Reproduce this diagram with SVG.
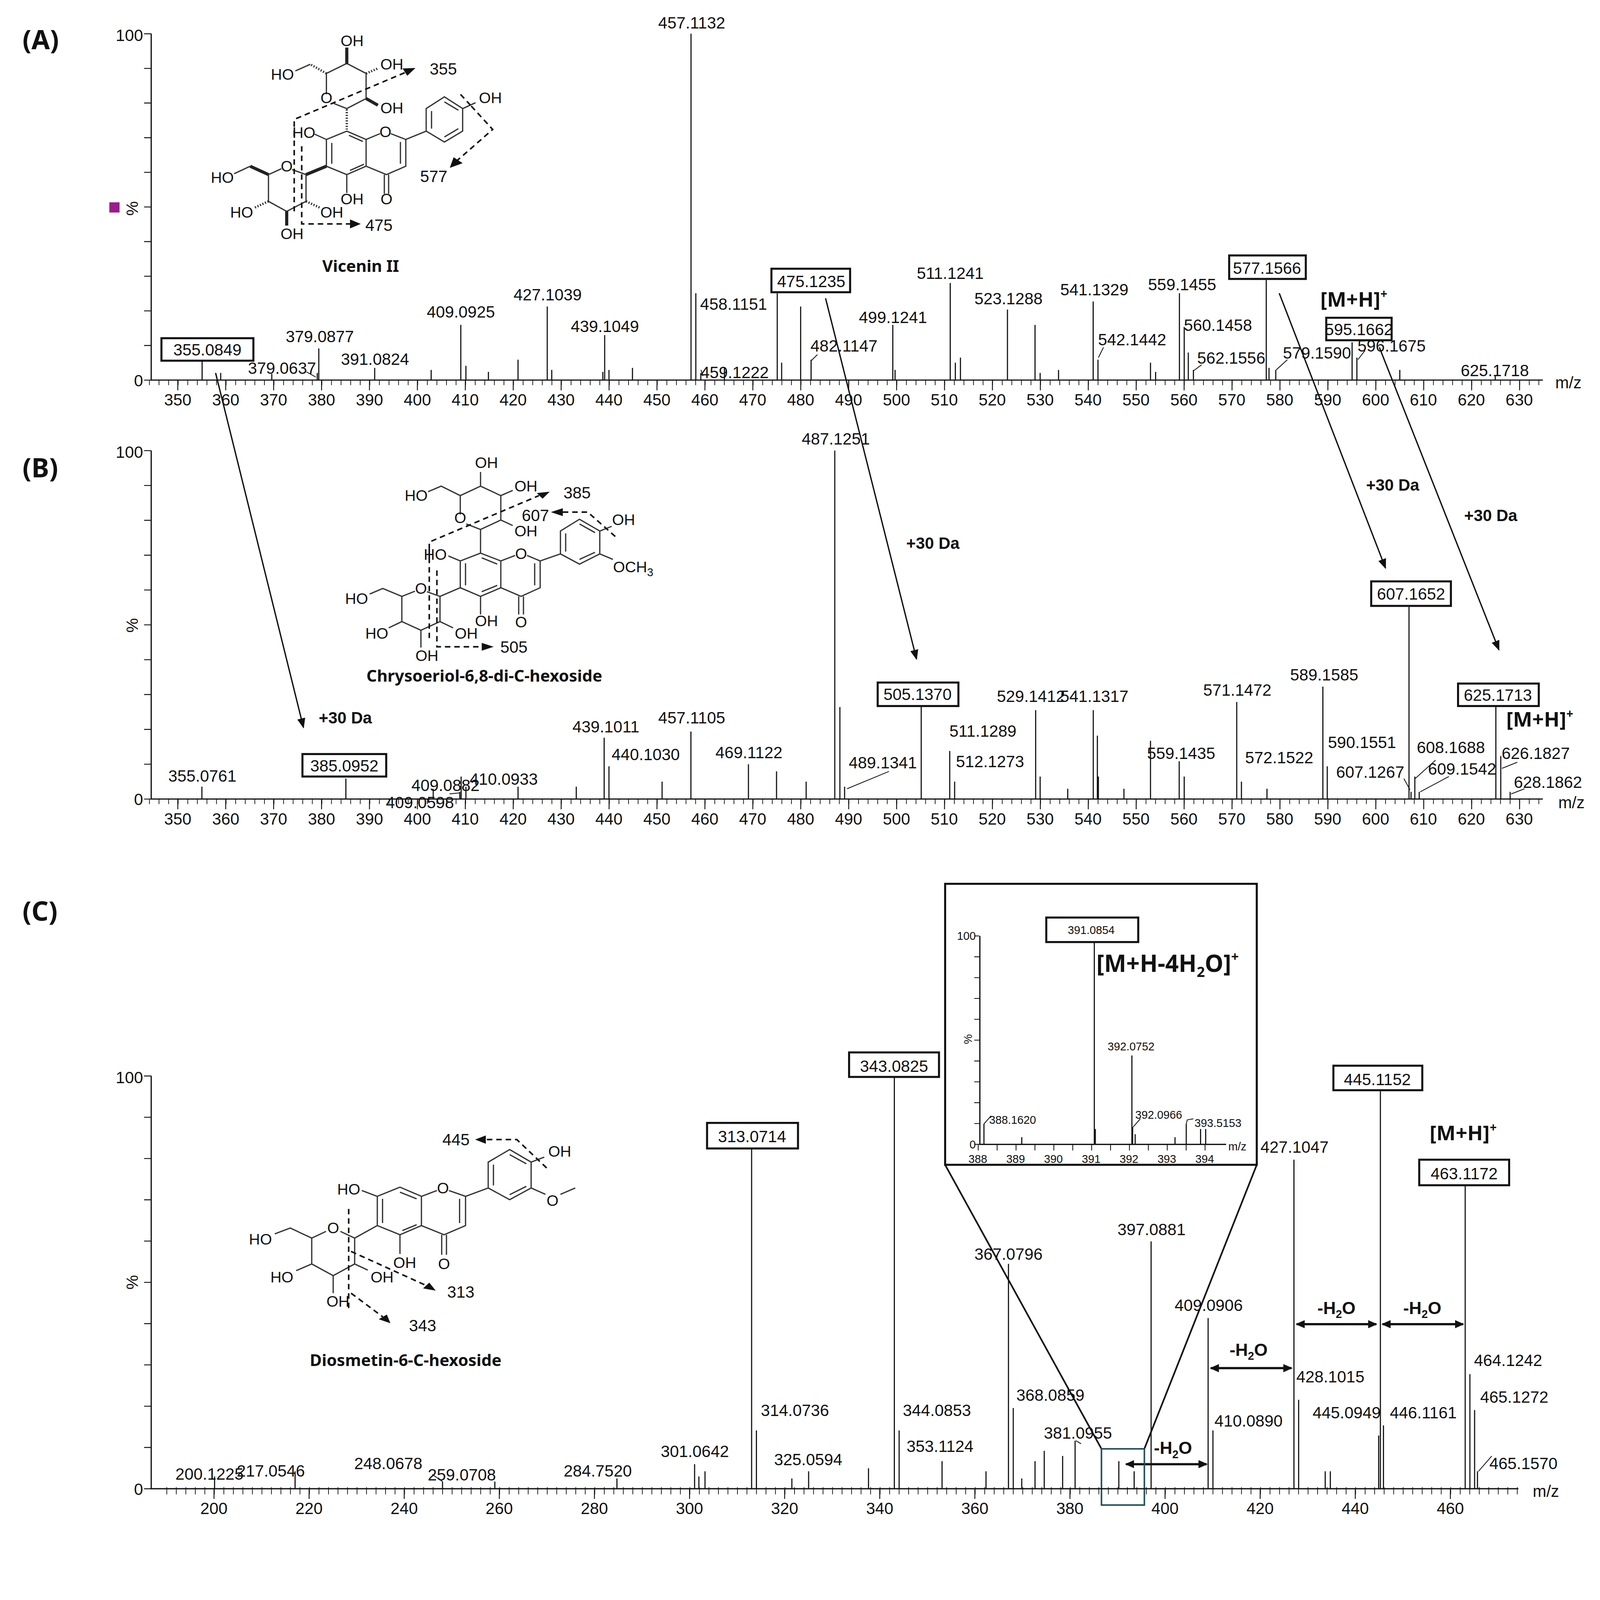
<svg xmlns="http://www.w3.org/2000/svg" width="4284" height="4100" viewBox="0 0 4284 4100">
<style>
text{font-family:"Liberation Sans",Arial,sans-serif;fill:#111}
.pk{font-size:16px;text-anchor:middle}
.tk{font-size:16px;text-anchor:middle}
.in{font-size:11px;text-anchor:middle}
.st{font-family:"Noto Sans","DejaVu Sans",sans-serif;font-size:15px;text-anchor:middle}
.nm{font-family:"Noto Sans","DejaVu Sans",sans-serif;font-size:16px;font-weight:bold;text-anchor:middle}
.bd{font-family:"Noto Sans","DejaVu Sans",sans-serif;font-weight:bold}
.peaks{fill:none;stroke:#111;stroke-width:1.1}
.ax{fill:none;stroke:#111;stroke-width:1.2}
.box{fill:#fff;stroke:#111;stroke-width:2}
.bond{fill:none;stroke:#333;stroke-width:3.2;vector-effect:non-scaling-stroke}
.wedge{fill:none;stroke:#222;stroke-width:8;vector-effect:non-scaling-stroke}
.hash{fill:none;stroke:#333;stroke-width:6;stroke-dasharray:3 4;vector-effect:non-scaling-stroke}
.frag{fill:none;stroke:#111;stroke-width:4;stroke-dasharray:14 10;vector-effect:non-scaling-stroke}
.ah{fill:#111}
.lead{fill:none;stroke:#111;stroke-width:0.8}
.arr{fill:none;stroke:#111;stroke-width:1.3;marker-end:url(#ar)}
.dh{fill:none;stroke:#111;stroke-width:2.2;marker-start:url(#ar2s);marker-end:url(#ar2)}
</style>
<defs>
<marker id="ar" markerWidth="10" markerHeight="8" refX="9" refY="4" orient="auto" markerUnits="userSpaceOnUse"><path d="M0,0 L10,4 L0,8 Z" fill="#111"/></marker>
<marker id="ar2" markerWidth="9" markerHeight="8" refX="8" refY="4" orient="auto" markerUnits="userSpaceOnUse"><path d="M0,0 L9,4 L0,8 Z" fill="#111"/></marker>
<marker id="ar2s" markerWidth="9" markerHeight="8" refX="1" refY="4" orient="auto" markerUnits="userSpaceOnUse"><path d="M9,0 L0,4 L9,8 Z" fill="#111"/></marker>
</defs>
<rect width="4284" height="4100" fill="#fff"/>
<g transform="scale(2.6157)">

<text x="22" y="48" class="bd" font-size="26">(A)</text>
<text x="22" y="467" class="bd" font-size="26">(B)</text>
<text x="22" y="901" class="bd" font-size="26">(C)</text>

<g id="axisA">
<path class="ax" d="M148,33 V372 H1510"/>
<line x1="144.5" y1="32.6" x2="144.5" y2="373" stroke="#111" stroke-width="7" stroke-dasharray="0.9 33"/>
<line x1="145.9" y1="374.5" x2="1510" y2="374.5" stroke="#111" stroke-width="5" stroke-dasharray="0.7 8.678"/>
<line x1="173.55" y1="377" x2="1500" y2="377" stroke="#111" stroke-width="10" stroke-dasharray="0.9 46"/>
<text x="140" y="40" font-size="16" text-anchor="end">100</text>
<text x="140" y="378" font-size="16" text-anchor="end">0</text>
<text x="0" y="0" font-size="16" text-anchor="middle" transform="translate(135,204) rotate(-90)">%</text>
<rect x="107" y="198" width="10" height="10" fill="#9b1c8c"/>
<text x="1535" y="380" font-size="16" text-anchor="middle">m/z</text>
<g class="tk">
<text x="174" y="397">350</text><text x="220.9" y="397">360</text><text x="267.8" y="397">370</text><text x="314.7" y="397">380</text><text x="361.6" y="397">390</text><text x="408.5" y="397">400</text><text x="455.3" y="397">410</text><text x="502.2" y="397">420</text><text x="549.1" y="397">430</text><text x="596" y="397">440</text><text x="642.9" y="397">450</text><text x="689.8" y="397">460</text><text x="736.7" y="397">470</text><text x="783.6" y="397">480</text><text x="830.5" y="397">490</text><text x="877.4" y="397">500</text><text x="924.2" y="397">510</text><text x="971.1" y="397">520</text><text x="1018" y="397">530</text><text x="1064.9" y="397">540</text><text x="1111.8" y="397">550</text><text x="1158.7" y="397">560</text><text x="1205.6" y="397">570</text><text x="1252.5" y="397">580</text><text x="1299.4" y="397">590</text><text x="1346.3" y="397">600</text><text x="1393.1" y="397">610</text><text x="1440" y="397">620</text><text x="1486.9" y="397">630</text>
</g>
</g>
<g id="peaksA">
<path class="peaks" d="M197.8 372V352 M310.5 372V365 M312 372V341 M366.7 372V360 M451 372V318 M535.6 372V300 M591.8 372V328 M676.3 372V33 M681 372V287 M685.9 372V365 M760.7 372V287 M793.8 372V352 M873.8 372V318 M930 372V277 M986 372V303 M1069.9 372V295 M1074.6 372V352 M1154.3 372V287 M1159 372V320 M1168 372V362 M1239.3 372V274 M1248.6 372V362 M1323.3 372V335 M1328 372V350 M1463.4 372V368 M507 372V352 M783.6 372V300 M765 372V355 M1013 372V318 M1126 372V355 M940 372V350 M1163 372V345 M422 372V362 M619 372V360 M709 372V360 M1036 372V362 M1370 372V362 M456 372V358 M540 372V362 M596 372V362 M935 372V355 M478 372V364 M876 372V362 M1018 372V365 M1131 372V364 M216 372V365 M266 372V366 M590 372V364 M1242 372V360"/>
<path class="lead" d="M300,364 L309,369 M688,368 L686,362 M800,347 L794,353 M1080,340 L1075,350 M1176,357 L1168,363 M1260,352 L1249,362 M1336,343 L1329,352"/>
<rect class="box" x="158" y="331" width="90" height="22"/>
<rect class="box" x="755" y="263" width="77" height="23"/>
<rect class="box" x="1203" y="250" width="75" height="23"/>
<rect class="box" x="1298" y="311" width="64" height="22"/>
<g class="pk">
<text x="203" y="348">355.0849</text>
<text x="276" y="366">379.0637</text>
<text x="313" y="335">379.0877</text>
<text x="367" y="357">391.0824</text>
<text x="451" y="311">409.0925</text>
<text x="536" y="294">427.1039</text>
<text x="592" y="325">439.1049</text>
<text x="677" y="28">457.1132</text>
<text x="718" y="303">458.1151</text>
<text x="719" y="370">459.1222</text>
<text x="794" y="281">475.1235</text>
<text x="826" y="344">482.1147</text>
<text x="874" y="316">499.1241</text>
<text x="930" y="273">511.1241</text>
<text x="987" y="298">523.1288</text>
<text x="1071" y="289">541.1329</text>
<text x="1108" y="338">542.1442</text>
<text x="1157" y="284">559.1455</text>
<text x="1192" y="324">560.1458</text>
<text x="1205" y="356">562.1556</text>
<text x="1240" y="268">577.1566</text>
<text x="1289" y="351">579.1590</text>
<text x="1330" y="328">595.1662</text>
<text x="1362" y="344">596.1675</text>
<text x="1463" y="368">625.1718</text>
</g>
<text x="1325" y="300" class="bd" font-size="20" text-anchor="middle">[M+H]<tspan font-size="12" dy="-8">+</tspan></text>
</g>

<g id="axisB">
<path class="ax" d="M148,441 V782 H1510"/>
<line x1="144.5" y1="440.6" x2="144.5" y2="783" stroke="#111" stroke-width="7" stroke-dasharray="0.9 33.2"/>
<line x1="145.9" y1="784.5" x2="1510" y2="784.5" stroke="#111" stroke-width="5" stroke-dasharray="0.7 8.678"/>
<line x1="173.55" y1="787" x2="1500" y2="787" stroke="#111" stroke-width="10" stroke-dasharray="0.9 46"/>
<text x="140" y="448" font-size="16" text-anchor="end">100</text>
<text x="140" y="788" font-size="16" text-anchor="end">0</text>
<text x="0" y="0" font-size="16" text-anchor="middle" transform="translate(135,612) rotate(-90)">%</text>
<text x="1538" y="791" font-size="16" text-anchor="middle">m/z</text>
<g class="tk">
<text x="174" y="807">350</text><text x="220.9" y="807">360</text><text x="267.8" y="807">370</text><text x="314.7" y="807">380</text><text x="361.6" y="807">390</text><text x="408.5" y="807">400</text><text x="455.3" y="807">410</text><text x="502.2" y="807">420</text><text x="549.1" y="807">430</text><text x="596" y="807">440</text><text x="642.9" y="807">450</text><text x="689.8" y="807">460</text><text x="736.7" y="807">470</text><text x="783.6" y="807">480</text><text x="830.5" y="807">490</text><text x="877.4" y="807">500</text><text x="924.2" y="807">510</text><text x="971.1" y="807">520</text><text x="1018" y="807">530</text><text x="1064.9" y="807">540</text><text x="1111.8" y="807">550</text><text x="1158.7" y="807">560</text><text x="1205.6" y="807">570</text><text x="1252.5" y="807">580</text><text x="1299.4" y="807">590</text><text x="1346.3" y="807">600</text><text x="1393.1" y="807">610</text><text x="1440" y="807">620</text><text x="1486.9" y="807">630</text>
</g>
</g>
<g id="peaksB">
<path class="peaks" d="M197.6 782V770 M338.5 782V762 M450 782V775 M451.3 782V760 M456 782V770 M591.3 782V722 M596 782V750 M676.2 782V716 M732.5 782V748 M817 782V441 M822 782V692 M826.6 782V770 M901.6 782V690 M929.5 782V735 M934.3 782V765 M1013.6 782V695 M1070 782V695 M1126 782V725 M1154.1 782V745 M1210.4 782V687 M1215 782V765 M1294.7 782V672 M1299 782V750 M1379 782V594 M1381 782V775 M1384.7 782V760 M1389 782V775 M1464 782V690 M1468.8 782V740 M1478 782V775 M648 782V765 M760 782V755 M789 782V765 M1018 782V760 M1075 782V760 M1159 782V760 M564 782V770 M507 782V770 M1045 782V772 M1240 782V772 M1100 782V772 M424 782V772 M1074 782V720"/>
<path class="lead" d="M440,777 L450,776 M1374,762 L1380,773 M1405,744 L1385,762 M1418,760 L1390,775 M1485,746 L1470,752 M1492,772 L1479,777 M870,755 L829,772"/>
<rect class="box" x="296" y="738" width="82" height="22"/>
<rect class="box" x="859" y="668" width="79" height="23"/>
<rect class="box" x="1342" y="569" width="78" height="24"/>
<rect class="box" x="1427" y="669" width="79" height="22"/>
<g class="pk">
<text x="198" y="765">355.0761</text>
<text x="337" y="755">385.0952</text>
<text x="411" y="791">409.0598</text>
<text x="436" y="774">409.0882</text>
<text x="493" y="768">410.0933</text>
<text x="593" y="717">439.1011</text>
<text x="632" y="744">440.1030</text>
<text x="677" y="708">457.1105</text>
<text x="733" y="742">469.1122</text>
<text x="818" y="435">487.1251</text>
<text x="864" y="752">489.1341</text>
<text x="898" y="685">505.1370</text>
<text x="962" y="721">511.1289</text>
<text x="969" y="751">512.1273</text>
<text x="1009" y="687">529.1412</text>
<text x="1071" y="687">541.1317</text>
<text x="1156" y="743">559.1435</text>
<text x="1211" y="681">571.1472</text>
<text x="1252" y="747">572.1522</text>
<text x="1296" y="666">589.1585</text>
<text x="1333" y="732">590.1551</text>
<text x="1341" y="761">607.1267</text>
<text x="1381" y="587">607.1652</text>
<text x="1420" y="737">608.1688</text>
<text x="1431" y="758">609.1542</text>
<text x="1466" y="686">625.1713</text>
<text x="1503" y="743">626.1827</text>
<text x="1515" y="771">628.1862</text>
</g>
<text x="1507" y="711" class="bd" font-size="20" text-anchor="middle">[M+H]<tspan font-size="12" dy="-8">+</tspan></text>
</g>

<g id="connectors">
<line class="arr" x1="211" y1="365" x2="297" y2="712"/>
<line class="arr" x1="808" y1="292" x2="897" y2="645"/>
<line class="arr" x1="1252" y1="287" x2="1356" y2="556"/>
<line class="arr" x1="1350" y1="340" x2="1467" y2="636"/>
<g class="bd" font-size="16" text-anchor="middle">
<text x="338" y="708">+30 Da</text>
<text x="913" y="537">+30 Da</text>
<text x="1363" y="480">+30 Da</text>
<text x="1459" y="510">+30 Da</text>
</g>
<g class="bd" font-size="17" text-anchor="middle">
<line class="dh" x1="1102" y1="1433" x2="1181" y2="1433"/>
<text x="1148" y="1423">-H<tspan font-size="11" dy="4">2</tspan><tspan dy="-4">O</tspan></text>
<line class="dh" x1="1185" y1="1339" x2="1264" y2="1339"/>
<text x="1222" y="1327">-H<tspan font-size="11" dy="4">2</tspan><tspan dy="-4">O</tspan></text>
<line class="dh" x1="1269" y1="1296" x2="1347" y2="1296"/>
<text x="1308" y="1286">-H<tspan font-size="11" dy="4">2</tspan><tspan dy="-4">O</tspan></text>
<line class="dh" x1="1353" y1="1296" x2="1432" y2="1296"/>
<text x="1392" y="1286">-H<tspan font-size="11" dy="4">2</tspan><tspan dy="-4">O</tspan></text>
</g>
<line x1="925" y1="1140" x2="1078" y2="1418" stroke="#111" stroke-width="1.6"/>
<line x1="1230" y1="1140" x2="1120" y2="1418" stroke="#111" stroke-width="1.6"/>
<rect x="1078" y="1418" width="42" height="55" fill="none" stroke="#1f4e5f" stroke-width="1.5"/>
</g>

<g id="axisC">
<path class="ax" d="M148,1053 V1457 H1486"/>
<line x1="144.5" y1="1052.6" x2="144.5" y2="1458" stroke="#111" stroke-width="7" stroke-dasharray="0.9 39.5"/>
<line x1="162.9" y1="1459" x2="1486" y2="1459" stroke="#111" stroke-width="7" stroke-dasharray="0.7 8.608"/>
<line x1="209" y1="1462" x2="1430" y2="1462" stroke="#111" stroke-width="10" stroke-dasharray="0.9 92.18"/>
<text x="140" y="1060" font-size="16" text-anchor="end">100</text>
<text x="140" y="1463" font-size="16" text-anchor="end">0</text>
<text x="0" y="0" font-size="16" text-anchor="middle" transform="translate(135,1255) rotate(-90)">%</text>
<text x="1513" y="1465" font-size="16" text-anchor="middle">m/z</text>
<g class="tk">
<text x="209.4" y="1482">200</text><text x="302.5" y="1482">220</text><text x="395.6" y="1482">240</text><text x="488.6" y="1482">260</text><text x="581.7" y="1482">280</text><text x="674.8" y="1482">300</text><text x="767.9" y="1482">320</text><text x="861" y="1482">340</text><text x="954.1" y="1482">360</text><text x="1047.1" y="1482">380</text><text x="1140.2" y="1482">400</text><text x="1233.3" y="1482">420</text><text x="1326.4" y="1482">440</text><text x="1419.5" y="1482">460</text>
</g>
</g>
<g id="peaksC">
<path class="peaks" d="M210 1457V1445 M288.8 1457V1440 M433.1 1457V1450 M484.3 1457V1450 M603.8 1457V1447 M679.8 1457V1433 M735.6 1457V1124 M740.3 1457V1400 M791.4 1457V1440 M875.3 1457V1054 M880 1457V1400 M922 1457V1430 M987 1457V1237 M991.7 1457V1378 M1052.2 1457V1410 M1126.6 1457V1215 M1182.4 1457V1290 M1187.1 1457V1400 M1266.4 1457V1135 M1271 1457V1370 M1349.3 1457V1405 M1351 1457V1068 M1354 1457V1395 M1434 1457V1160 M1438.6 1457V1345 M1443.2 1457V1380 M1446 1457V1440 M690 1457V1440 M850 1457V1437 M1022 1457V1420 M1040 1457V1425 M1095 1457V1430 M1110 1457V1440 M1297 1457V1440 M1302 1457V1440 M775 1457V1447 M965 1457V1440 M1000 1457V1447 M684 1457V1445 M1013 1457V1430"/>
<path class="lead" d="M423,1443 L433,1450 M1460,1425 L1447,1440 M1058,1413 L1053,1410"/>
<rect class="box" x="692" y="1099" width="89" height="25"/>
<rect class="box" x="831" y="1030" width="88" height="24"/>
<rect class="box" x="1305" y="1043" width="87" height="24"/>
<rect class="box" x="1389" y="1135" width="88" height="25"/>
<g class="pk">
<text x="205" y="1448">200.1225</text>
<text x="265" y="1445">217.0546</text>
<text x="380" y="1438">248.0678</text>
<text x="452" y="1449">259.0708</text>
<text x="585" y="1445">284.7520</text>
<text x="680" y="1426">301.0642</text>
<text x="736" y="1118">313.0714</text>
<text x="778" y="1386">314.0736</text>
<text x="791" y="1434">325.0594</text>
<text x="875" y="1049">343.0825</text>
<text x="917" y="1386">344.0853</text>
<text x="920" y="1421">353.1124</text>
<text x="987" y="1233">367.0796</text>
<text x="1028" y="1371">368.0859</text>
<text x="1055" y="1408">381.0955</text>
<text x="1127" y="1209">397.0881</text>
<text x="1183" y="1283">409.0906</text>
<text x="1222" y="1396">410.0890</text>
<text x="1267" y="1128">427.1047</text>
<text x="1302" y="1353">428.1015</text>
<text x="1318" y="1388">445.0949</text>
<text x="1348" y="1062">445.1152</text>
<text x="1393" y="1388">446.1161</text>
<text x="1433" y="1154">463.1172</text>
<text x="1476" y="1337">464.1242</text>
<text x="1482" y="1373">465.1272</text>
<text x="1491" y="1438">465.1570</text>
</g>
<text x="1432" y="1116" class="bd" font-size="20" text-anchor="middle">[M+H]<tspan font-size="12" dy="-8">+</tspan></text>
</g>

<g id="inset">
<rect x="925" y="865" width="305" height="275" fill="#fff" stroke="#111" stroke-width="2"/>
<path class="ax" d="M959,916 V1120 H1200"/>
<line x1="956" y1="915.6" x2="956" y2="1121" stroke="#111" stroke-width="5" stroke-dasharray="0.8 19.6"/>
<line x1="957" y1="1123" x2="1196" y2="1123" stroke="#111" stroke-width="6" stroke-dasharray="0.8 17.7"/>
<text x="955" y="920" font-size="11" text-anchor="end">100</text>
<text x="955" y="1124" font-size="11" text-anchor="end">0</text>
<text x="0" y="0" font-size="11" text-anchor="middle" transform="translate(951,1017) rotate(-90)">%</text>
<text x="1211" y="1126" font-size="11" text-anchor="middle">m/z</text>
<g class="in">
<text x="957" y="1138">388</text><text x="994" y="1138">389</text><text x="1031" y="1138">390</text><text x="1068" y="1138">391</text><text x="1105" y="1138">392</text><text x="1142" y="1138">393</text><text x="1179" y="1138">394</text>
</g>
<path class="peaks" d="M963 1120V1100 M1071 1120V922 M1107.8 1120V1033 M1108.5 1120V1103 M1161 1120V1100 M1000 1120V1113 M1150 1120V1113 M1175 1120V1105 M1180 1120V1105 M1111 1120V1110 M1072 1120V1105"/>
<path class="lead" d="M963,1100 L970,1092 M1109,1103 L1116,1095 M1161,1100 L1162,1096 L1168,1095"/>
<rect class="box" x="1024" y="898" width="90" height="24"/>
<text x="1068" y="914" class="in">391.0854</text>
<text x="1107" y="1028" class="in">392.0752</text>
<text x="1134" y="1095" class="in">392.0966</text>
<text x="1192" y="1103" class="in">393.5153</text>
<text x="991" y="1100" class="in">388.1620</text>
<text x="1073" y="951" class="bd" font-size="23">[M+H-4H<tspan font-size="14" dy="5">2</tspan><tspan dy="-5">O]</tspan><tspan font-size="13" dy="-10">+</tspan></text>
</g>

<g id="vicenin">
<g transform="translate(190.3,22) scale(0.210,0.1636)">
<path class="bond" d="M615,430 L615,305 L710,245 L800,305 L800,455 L710,515 L650,485 M540,250 L470,290 M710,650 L800,700 L800,860 L710,910 L615,860 L615,700 Z M800,700 L865,665 M915,665 L985,700 L985,860 L895,910 L800,860 M640,720 L640,845 M725,885 L790,848 M720,675 L785,712 M960,715 L960,845 M885,910 L885,1025 M905,910 L905,1025 M615,700 L560,668 M710,910 L710,1020 M985,700 L1080,650 M1080,650 L1080,515 L1165,445 L1250,515 L1250,650 L1165,715 Z M1105,530 L1105,635 M1165,475 L1230,525 M1165,685 L1230,635 M1250,515 L1310,480 M455,880 L520,910 L520,1070 L430,1130 L345,1070 L345,910 L405,875 M260,860 L185,905"/>
<path class="hash" d="M710,520 L710,640 M615,305 L540,250 M800,305 L855,275 M345,1070 L280,1108 M520,1070 L585,1108"/>
<path class="wedge" d="M710,245 L710,150 M800,455 L855,495 M520,910 L615,860 M345,910 L260,860 M430,1130 L430,1215"/>
<path class="frag" d="M465,680 L465,580 L990,295 M465,650 L465,1130 M500,740 L500,1205 L730,1205 M1240,430 L1290,500 M1290,500 L1390,640 L1225,825"/>
<polygon class="ah" points="1030,272 992,319 970,275"/>
<polygon class="ah" points="775,1205 725,1178 725,1232"/>
<polygon class="ah" points="1190,870 1250,842 1208,806"/>
</g>
<g class="st">
<text x="344.6" y="45">OH</text>
<text x="383.5" y="68">OH</text>
<text x="276.4" y="78">HO</text>
<text x="319.5" y="101">O</text>
<text x="383.5" y="111">OH</text>
<text x="480" y="101">OH</text>
<text x="297.4" y="135">HO</text>
<text x="377.2" y="134">O</text>
<text x="280.6" y="168">O</text>
<text x="217.6" y="179">HO</text>
<text x="344.6" y="200">OH</text>
<text x="378.3" y="200">O</text>
<text x="236.5" y="213">HO</text>
<text x="324.7" y="213">OH</text>
<text x="285.8" y="234">OH</text>
<text x="433.9" y="73" font-size="16">355</text>
<text x="424.5" y="178" font-size="16">577</text>
<text x="370.9" y="226" font-size="16">475</text>
</g>
<text x="353" y="266" class="nm">Vicenin II</text>
</g>

<g id="chrysoeriol">
<g transform="translate(322.1,431.9) scale(0.2334,0.1541)">
<path class="bond" d="M550,465 L550,345 L635,285 L720,345 L720,500 L635,560 L575,525 M635,560 L635,710 M550,345 L470,285 L415,320 M635,285 L635,195 M720,345 L770,312 M720,500 L770,535 M635,710 L720,760 L720,930 L635,985 L550,930 L550,760 Z M720,760 L780,725 M830,725 L885,760 L885,930 L805,985 L720,930 M572,775 L572,915 M640,955 L705,915 M640,740 L705,780 M862,775 L862,915 M795,985 L795,1100 M815,985 L815,1100 M550,760 L500,728 M635,985 L635,1100 M885,760 L970,715 M970,715 L970,570 L1050,495 L1135,570 L1135,715 L1050,780 Z M992,585 L992,700 M1050,525 L1115,580 M1050,750 L1115,705 M1135,570 L1185,540 M1135,715 L1190,750 M465,985 L550,930 M410,955 L465,985 L465,1145 L385,1200 L305,1145 L305,985 L360,952 M305,985 L225,935 L170,970 M305,1145 L250,1185 M385,1200 L385,1310 M465,1145 L520,1185"/>
<path class="frag" d="M420,745 L420,640 L880,345 M420,680 L420,1250 M452,820 L452,1305 L645,1305 M1200,605 L1085,450 L975,450"/>
<polygon class="ah" points="925,320 895,365 871,329"/>
<polygon class="ah" points="690,1305 640,1280 640,1330"/>
<polygon class="ah" points="930,450 980,425 980,475"/>
</g>
<g class="st">
<text x="476.1" y="458">OH</text>
<text x="514.7" y="481">OH</text>
<text x="407.3" y="490">HO</text>
<text x="450.5" y="512">O</text>
<text x="610.3" y="514">OH</text>
<text x="514.7" y="525">OH</text>
<text x="426" y="548">HO</text>
<text x="510" y="547">O</text>
<text x="600" y="560" text-anchor="start">OCH<tspan font-size="11" dy="4">3</tspan></text>
<text x="412" y="581">O</text>
<text x="349" y="591">HO</text>
<text x="476.1" y="613">OH</text>
<text x="510" y="614">O</text>
<text x="368.8" y="625">HO</text>
<text x="456.3" y="625">OH</text>
<text x="417.8" y="647">OH</text>
<text x="564.8" y="488" font-size="16">385</text>
<text x="524" y="510" font-size="16">607</text>
<text x="503" y="639" font-size="16">505</text>
</g>
<text x="474" y="667" class="nm">Chrysoeriol-6,8-di-C-hexoside</text>
</g>

<g id="diosmetin">
<g transform="translate(226.9,1090.8) scale(0.2334,0.1634)">
<path class="bond" d="M705,435 L795,490 L795,665 L705,720 L610,665 L610,490 Z M795,490 L860,455 M910,455 L980,490 L980,665 L890,720 L795,665 M632,505 L632,650 M705,465 L775,505 M715,695 L775,660 M955,505 L955,650 M880,720 L880,840 M900,720 L900,840 M610,490 L545,455 M705,720 L705,835 M980,490 L1075,440 M1075,440 L1075,285 L1165,210 L1255,285 L1255,440 L1165,510 Z M1097,300 L1097,425 M1165,240 L1235,295 M1165,480 L1235,430 M1255,285 L1310,255 M1255,440 L1315,478 M1378,478 L1440,440 M515,740 L610,665 M455,700 L515,740 L515,895 L425,965 L335,895 L335,740 L395,700 M335,740 L245,680 L180,715 M335,895 L270,935 M425,965 L425,1070 M515,895 L570,932"/>
<path class="frag" d="M490,565 L490,1160 M500,820 L815,1024 M500,1070 L633,1212 M1320,320 L1195,150 L1060,150"/>
<polygon class="ah" points="855,1055 802,1041 828,1007"/>
<polygon class="ah" points="665,1250 616,1226 650,1198"/>
<polygon class="ah" points="1020,150 1065,125 1065,175"/>
</g>
<g class="st">
<text x="446.3" y="1121" font-size="16">445</text>
<text x="547.8" y="1132">OH</text>
<text x="341.3" y="1169">HO</text>
<text x="433.5" y="1168">O</text>
<text x="540.8" y="1180">O</text>
<text x="326.1" y="1207">O</text>
<text x="254.9" y="1218">HO</text>
<text x="396.1" y="1241">OH</text>
<text x="434.6" y="1242">O</text>
<text x="275.9" y="1255">HO</text>
<text x="374" y="1255">OH</text>
<text x="451" y="1270" font-size="16">313</text>
<text x="330.8" y="1279">OH</text>
<text x="413.6" y="1303" font-size="16">343</text>
</g>
<text x="397" y="1337" class="nm">Diosmetin-6-C-hexoside</text>
</g>

</g>
</svg>
